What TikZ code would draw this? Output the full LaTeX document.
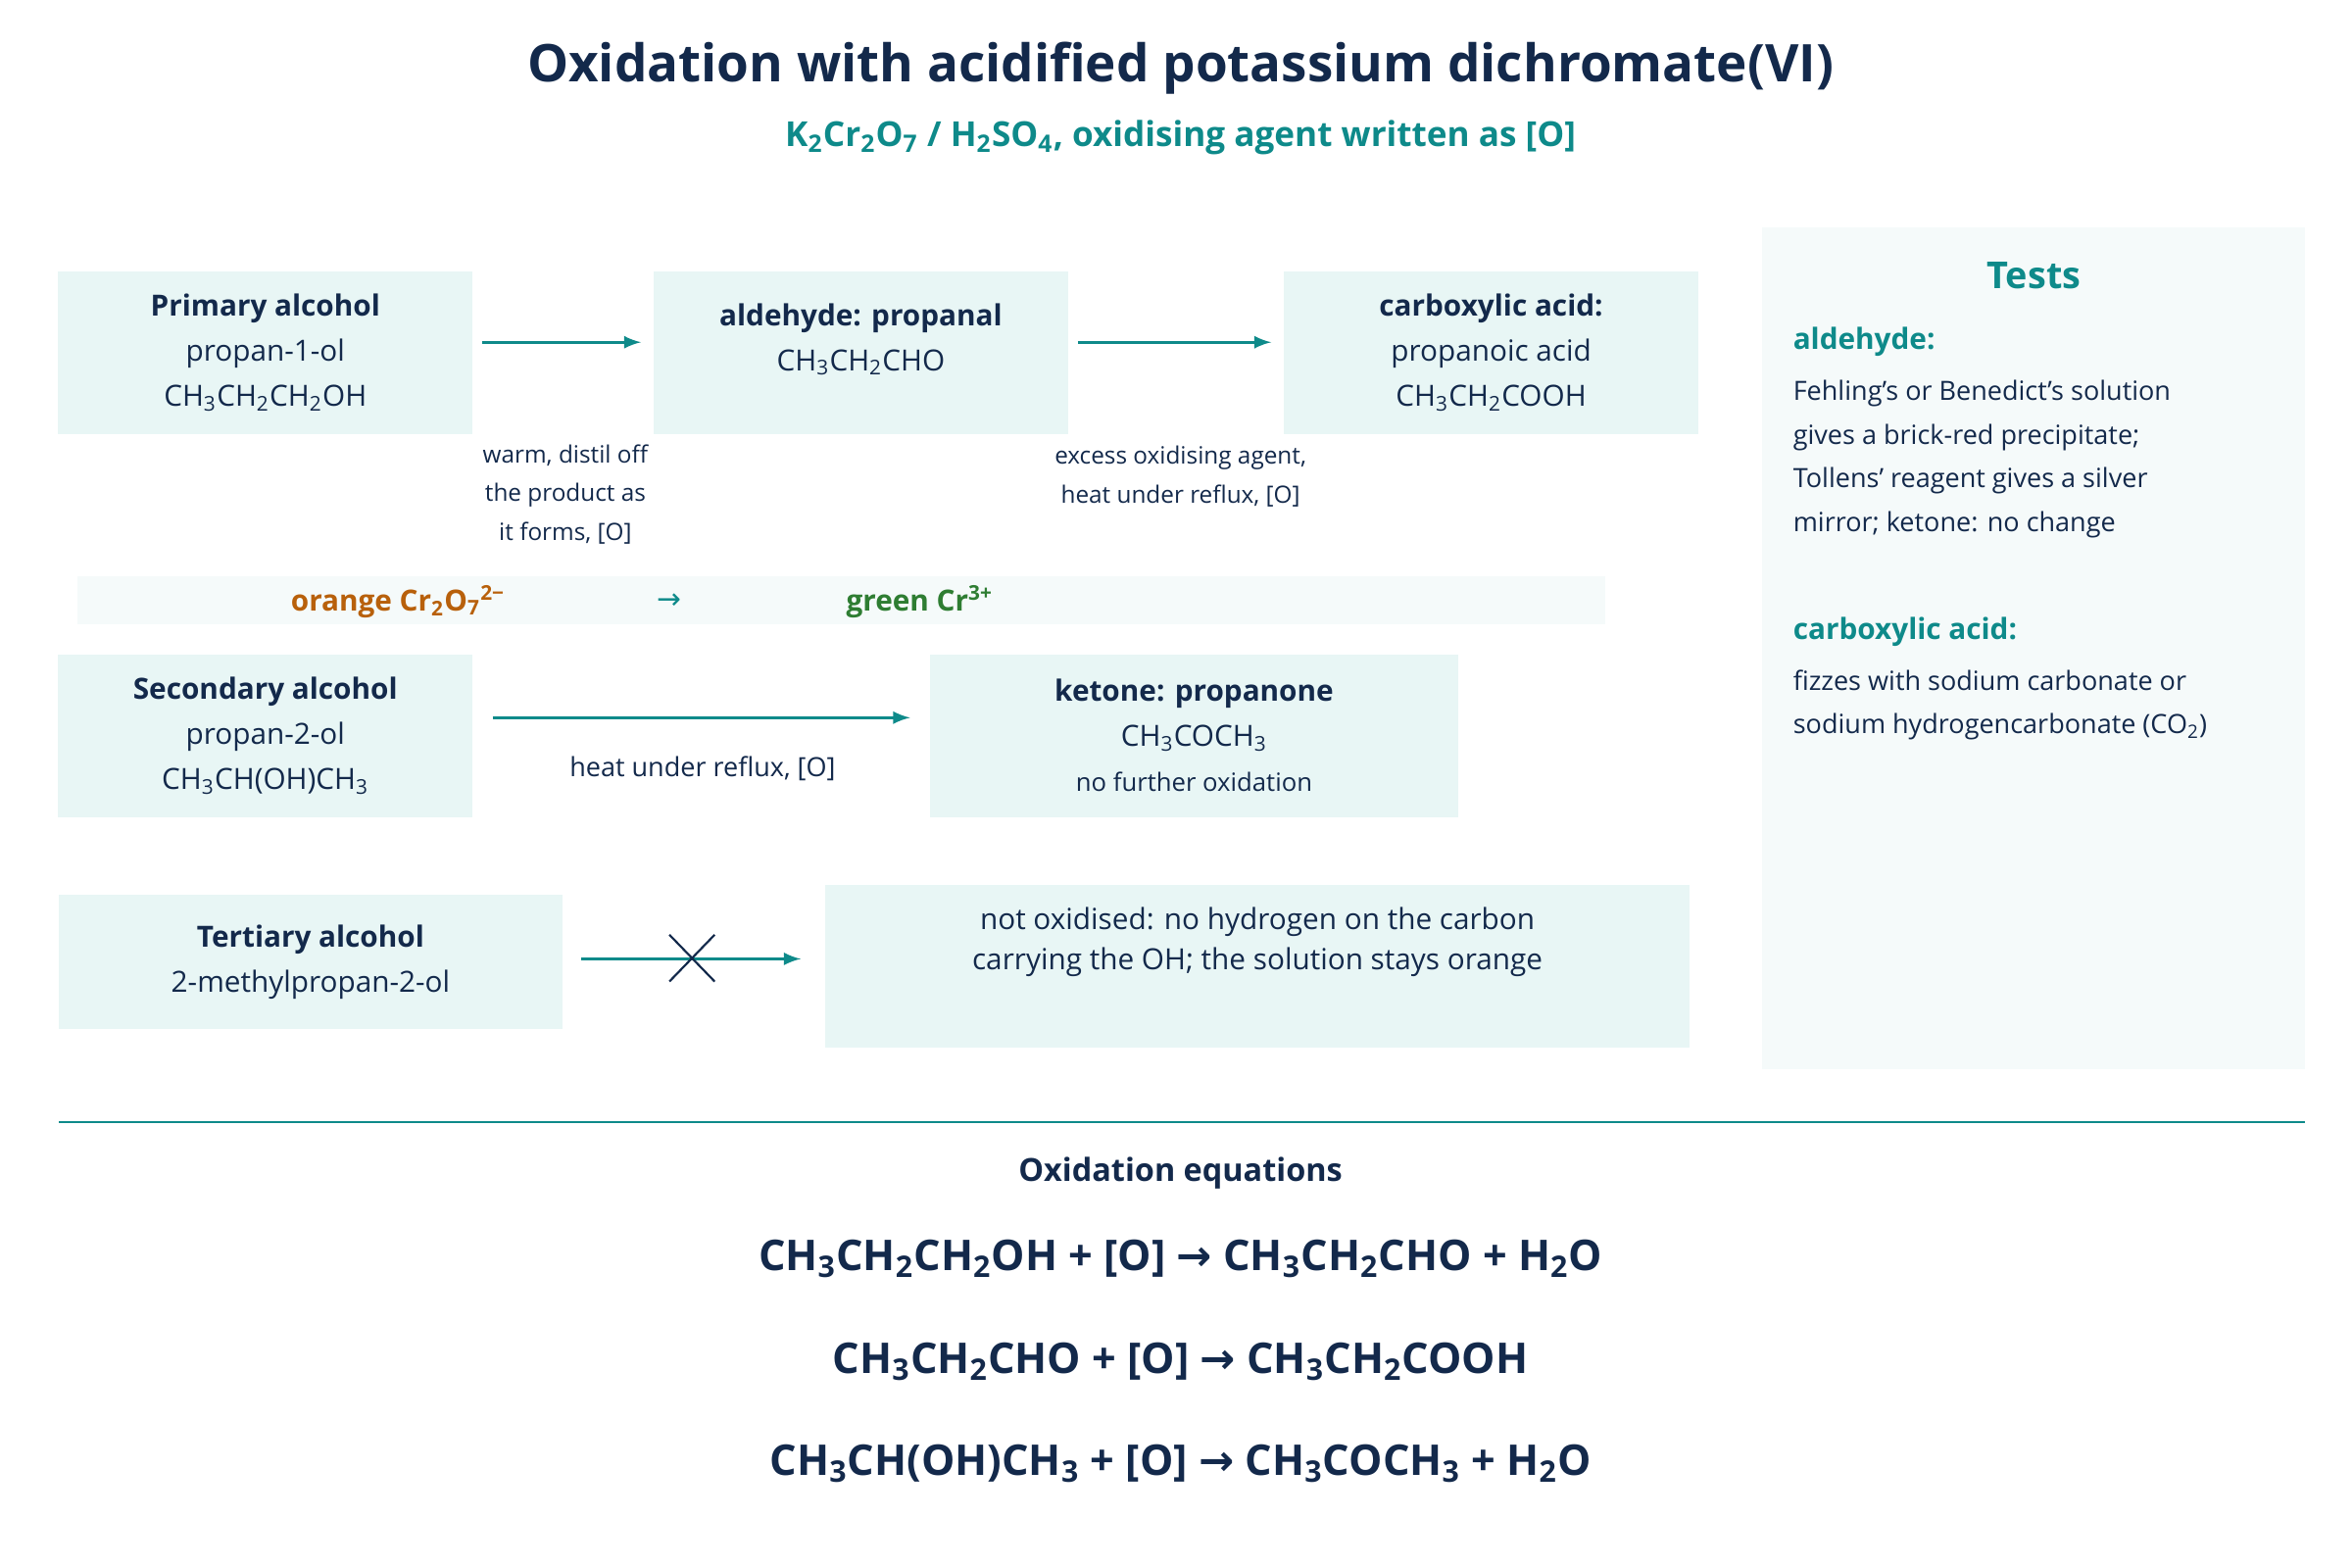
\documentclass[tikz,border=0pt]{standalone}
\usepackage{fontspec}
\setmainfont{Open Sans}
\newfontfamily\symfont{DejaVu Sans}
\usetikzlibrary{positioning}
\definecolor{navy}{HTML}{13294B}
\definecolor{teal}{HTML}{0E8A8A}
\definecolor{boxfill}{HTML}{E8F6F5}
\definecolor{panelfill}{HTML}{F5FAFA}
\definecolor{orangec}{HTML}{B8600B}
\definecolor{greenc}{HTML}{2E7D32}
\newcommand{\lo}[1]{\textsubscript{#1}}
\newcommand{\hi}[1]{\textsuperscript{#1}}
\newcommand{\yields}{{\symfont →}}
\begin{document}
\begin{tikzpicture}[x=0.02cm, y=-0.02cm,
  size/.style 2 args={minimum width=#1*0.02cm, minimum height=#2*0.02cm},
  stage/.style={fill=boxfill, inner sep=0pt, align=center, text=navy, font=\fontsize{11}{17}\selectfont},
  cond/.style={align=center, text=navy, font=\fontsize{9}{14.5}\selectfont},
  route/.style={->, >=latex, very thick, teal},
  eqn/.style={text=navy, font=\fontsize{16}{18}\bfseries\selectfont}
]
\useasboundingbox (0,0) rectangle (1560,1040);

% Title
\node[text=navy, font=\fontsize{19.6}{22}\bfseries\selectfont] (title) at (783,45) {Oxidation with acidified potassium dichromate(VI)};
\node[text=teal, font=\fontsize{13}{16}\bfseries\selectfont] (subtitle) at (783,91) {K\lo{2}Cr\lo{2}O\lo{7} / H\lo{2}SO\lo{4}, oxidising agent written as [O]};

% Primary alcohol route
\node[stage, size={275}{108}] (prim) at (176,234) {\textbf{Primary alcohol}\\propan-1-ol\\CH\lo{3}CH\lo{2}CH\lo{2}OH};
\node[stage, size={275}{108}] (ald) at (571,234) {\textbf{aldehyde: propanal}\\CH\lo{3}CH\lo{2}CHO\\[-5pt]\mbox{}};
\node[stage, size={275}{108}] (acid) at (989,234) {\textbf{carboxylic acid:}\\propanoic acid\\CH\lo{3}CH\lo{2}COOH};
\draw[route] ([shift={(6,-7)}]prim.east) coordinate (p1) -- ([xshift=-8*0.02cm]ald.west |- p1);
\draw[route] ([shift={(6,-7)}]ald.east) coordinate (a1) -- ([xshift=-8*0.02cm]acid.west |- a1);
\node[cond] (c1) at (375,328) {warm, distil off\\the product as\\it forms, [O]};
\node[cond] (c2) at (783,316) {excess oxidising agent,\\heat under reflux, [O]};

% Colour change
\node[fill=panelfill, size={1013}{32}, inner sep=0pt] (strip) at (558,398) {};
\node[text=orangec, font=\fontsize{11}{13}\bfseries\selectfont] (orange) at (264,399) {orange Cr\lo{2}O\lo{7}\hi{2−}};
\node[text=teal, font=\fontsize{11}{13}\selectfont] (arr) at (444,399) {\yields};
\node[text=greenc, font=\fontsize{11}{13}\bfseries\selectfont] (green) at (610,399) {green Cr\hi{3+}};

% Secondary alcohol route
\node[stage, size={275}{108}] (sec) at (176,488) {\textbf{Secondary alcohol}\\propan-2-ol\\CH\lo{3}CH(OH)CH\lo{3}};
\node[stage, size={350}{108}] (ket) at (792,488) {\textbf{ketone: propanone}\\CH\lo{3}COCH\lo{3}\\{\fontsize{9.5}{14}\selectfont no further oxidation}};
\draw[route] ([shift={(13,-12)}]sec.east) coordinate (s1) -- ([xshift=-13*0.02cm]ket.west |- s1);
\node[cond, font=\fontsize{10}{14}\selectfont] (c3) at (466,510) {heat under reflux, [O]};

% Tertiary alcohol
\node[stage, size={334}{89}] (tert) at (206,638) {\textbf{Tertiary alcohol}\\2-methylpropan-2-ol};
\node[stage, size={573}{108}, text depth=21pt, font=\fontsize{11}{15}\selectfont] (none) at (834,641) {not oxidised: no hydrogen on the carbon\\carrying the OH; the solution stays orange};
\draw[route] ([shift={(12,-2)}]tert.east) coordinate (t1) -- ([xshift=-16*0.02cm]none.west |- t1);
\draw[navy, thick] (444,620) -- (474,651) (444,651) -- (474,620);

% Tests panel
\node[fill=panelfill, size={360}{558}, inner sep=0pt] (tests) at (1349,430) {};
\node[text=teal, font=\fontsize{14}{16}\bfseries\selectfont] (thead) at (1349,183) {Tests};
\node[text=teal, font=\fontsize{11}{13}\bfseries\selectfont, anchor=west, inner sep=0pt] (tald) at (1189,227) {aldehyde:};
\node[text=navy, font=\fontsize{10}{16.5}\selectfont, anchor=north west, align=left, inner sep=0pt] (tald2) at (1189,252) {Fehling's or Benedict's solution\\gives a brick-red precipitate;\\Tollens' reagent gives a silver\\mirror; ketone: no change};
\node[text=teal, font=\fontsize{11}{13}\bfseries\selectfont, anchor=west, inner sep=0pt] (tacid) at (1189,419) {carboxylic acid:};
\node[text=navy, font=\fontsize{10}{16.5}\selectfont, anchor=north west, align=left, inner sep=0pt] (tacid2) at (1189,444) {fizzes with sodium carbonate or\\sodium hydrogencarbonate (CO\lo{2})};

% Equations
\coordinate (rl) at (39,744);
\coordinate (rr) at (1529,744);
\draw[teal, thick] (rl) -- (rr);
\node[text=navy, font=\fontsize{12}{14}\bfseries\selectfont] (ehead) at (783,778) {Oxidation equations};
\node[eqn] (eq1) at (783,835) {CH\lo{3}CH\lo{2}CH\lo{2}OH + [O] \yields{} CH\lo{3}CH\lo{2}CHO + H\lo{2}O};
\node[eqn] (eq2) at (783,903) {CH\lo{3}CH\lo{2}CHO + [O] \yields{} CH\lo{3}CH\lo{2}COOH};
\node[eqn] (eq3) at (783,971) {CH\lo{3}CH(OH)CH\lo{3} + [O] \yields{} CH\lo{3}COCH\lo{3} + H\lo{2}O};
\end{tikzpicture}
\end{document}
